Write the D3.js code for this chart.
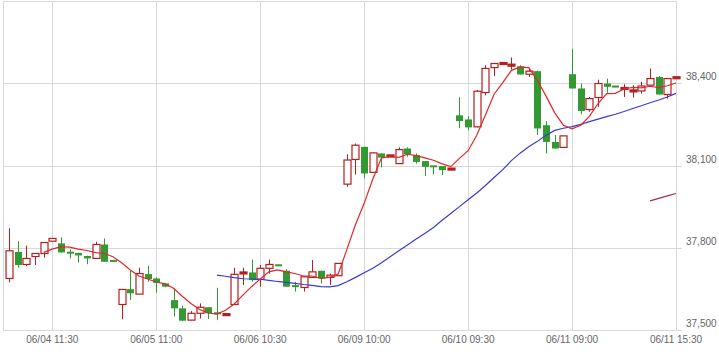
<!DOCTYPE html>
<html>
<head>
<meta charset="utf-8">
<script src="https://cdn.jsdelivr.net/npm/d3@7"></script>
<style>
    body { margin: 0; background: #fff; }
    text { font-family: "Liberation Sans", Arial, sans-serif; font-size: 10px; fill: #666; }
</style>
</head>
<body>
<svg id="chart" width="719" height="352"></svg>
<script>
// 30-minute bars, 06/04 09:00 .. 06/11 15:30 (13 bars a day)
const open  = [37688,37785,37739,37768,37779,37824,37816,37782,37781,37770,37761,37812,37752,37593,37649,37631,37704,37688,37670,37609,
               37579,37536,37561,37583,37561,37554,37593,37704,37710,37685,37725,37736,37716,37660,37655,37692,37716,37692,37698,38032,
               38122,38168,38075,38144,38133,38107,38162,38138,38116,38097,38098,38085,38283,38268,38241,38366,38457,38470,38463,38462,
               38433,38444,38247,38186,38166,38433,38381,38304,38348,38399,38388,38375,38365,38372,38393,38423,38359,38418]
const high  = [37871,37824,37808,37779,37821,37834,37838,37794,37782,37771,37822,37834,37752,37648,37716,37727,37734,37692,37670,37652,
               37589,37569,37597,37583,37654,37556,37727,37727,37757,37737,37757,37736,37722,37676,37696,37755,37716,37706,37743,38141,
               38180,38168,38148,38144,38135,38166,38166,38144,38116,38097,38098,38087,38349,38280,38375,38466,38474,38473,38494,38466,
               38454,38446,38262,38211,38208,38526,38399,38350,38413,38417,38388,38396,38393,38405,38454,38426,38417,38420]
const low   = [37674,37727,37733,37737,37764,37824,37783,37761,37746,37740,37761,37749,37750,37539,37609,37631,37676,37636,37656,37549,
               37534,37536,37542,37540,37536,37554,37593,37664,37676,37658,37706,37733,37658,37640,37640,37692,37670,37664,37698,38022,
               38067,38053,38075,38093,38133,38107,38132,38107,38062,38067,38065,38085,38236,38229,38239,38356,38426,38470,38450,38432,
               38423,38211,38144,38162,38166,38381,38287,38296,38314,38365,38386,38350,38348,38362,38393,38359,38344,38418]
const close = [37789,37737,37761,37779,37819,37834,37783,37776,37772,37761,37812,37749,37751,37648,37634,37706,37686,37672,37658,37579,
               37534,37561,37583,37561,37555,37556,37703,37708,37682,37725,37739,37733,37658,37654,37694,37712,37688,37700,37743,38120,
               38174,38071,38146,38129,38135,38158,38141,38113,38095,38093,38083,38087,38262,38239,38371,38454,38472,38472,38466,38432,
               38444,38235,38186,38162,38208,38381,38299,38344,38399,38387,38386,38381,38372,38390,38417,38359,38417,38420]

// moving averages; first value sits on bar ma*Start
const ma5Start = 4
const ma5 = [37783,37795,37804,37802,37795,37790,37782,37779,37767,37745,37719,37697,37686,37675,37668,37652,37623,37597,37575,37562,
             37558,37572,37595,37627,37658,37686,37712,37719,37712,37706,37697,37697,37688,37692,37704,37793,37885,37962,38051,38128,
             38132,38130,38141,38136,38128,38119,38106,38096,38126,38154,38210,38284,38360,38402,38447,38459,38457,38410,38353,38292,
             38247,38234,38247,38279,38326,38362,38363,38379,38385,38383,38389,38384,38391,38401]
const ma25Start = 24
const ma25 = [37700,37696,37691,37687,37686,37685,37681,37677,37674,37670,37666,37663,37658,37657,37662,37676,37692,37709,37725,37745,
              37767,37789,37810,37832,37852,37874,37900,37925,37950,37975,38000,38027,38056,38085,38118,38145,38168,38188,38210,38228,
              38236,38242,38250,38260,38269,38278,38287,38297,38308,38318,38329,38339,38350,38363]
const ma75Start = 74
const ma75 = [37971,37980,37989,37998]

const yTicks = [37500, 37800, 38100, 38400]
const xTickIdx = [5, 17, 29, 41, 53, 65, 77]
const xTickLabels = ["06/04 11:30", "06/05 11:00", "06/06 10:30", "06/09 10:00", "06/10 09:30", "06/11 09:00", "06/11 15:30"]

const plotLeft = 3, plotRight = 676, plotTop = 1, plotBottom = 330
const upColor = '#b41e1e'
const downColor = '#339933'

const svg = d3.select('#chart')

const x = d3.scaleLinear().domain([0, open.length - 1]).range([9, plotRight])
const y = d3.scaleLinear().domain([37500, 38700]).range([plotBottom, plotTop])

// grid
const grid = svg.append('g').attr('stroke', '#d9d9d9').attr('stroke-width', 1)
grid.selectAll('.hgrid')
    .data(yTicks)
    .enter().append('line')
    .attr('x1', plotLeft).attr('x2', plotRight + 6)
    .attr('y1', d => Math.round(y(d)) + 0.5)
    .attr('y2', d => Math.round(y(d)) + 0.5)
grid.selectAll('.vgrid')
    .data(xTickIdx)
    .enter().append('line')
    .attr('x1', d => Math.round(x(d)) + 0.5)
    .attr('x2', d => Math.round(x(d)) + 0.5)
    .attr('y1', plotTop).attr('y2', plotBottom)
grid.append('line').attr('x1', plotLeft + 0.5).attr('x2', plotLeft + 0.5).attr('y1', plotTop).attr('y2', plotBottom)
grid.append('line').attr('x1', plotLeft).attr('x2', plotRight).attr('y1', plotTop + 0.5).attr('y2', plotTop + 0.5)

// labels
svg.selectAll('.ylab')
    .data(yTicks)
    .enter().append('text')
    .attr('x', 686)
    .attr('y', d => y(d) - 3)
    .text(d => d3.format(',')(d))

svg.selectAll('.xlab')
    .data(xTickIdx)
    .enter().append('text')
    .attr('x', d => x(d))
    .attr('y', 343)
    .attr('text-anchor', 'middle')
    .text((d, i) => xTickLabels[i])

// candles
const bars = open.map((o, i) => ({i: i, o: o, h: high[i], l: low[i], c: close[i]}))
const candle = svg.append('g').selectAll('g')
    .data(bars)
    .enter().append('g')

candle.append('line')
    .attr('x1', d => Math.round(x(d.i)) + 0.5)
    .attr('x2', d => Math.round(x(d.i)) + 0.5)
    .attr('y1', d => y(d.h))
    .attr('y2', d => y(d.l))
    .attr('stroke', d => d.c >= d.o ? upColor : downColor)
    .attr('stroke-width', 1)

candle.append('rect')
    .attr('x', d => Math.round(x(d.i)) - 3)
    .attr('width', 7)
    .attr('y', d => {
        let h = Math.abs(y(d.o) - y(d.c))
        return Math.min(y(d.o), y(d.c)) - (h < 2 ? 1 : 0)
    })
    .attr('height', d => Math.max(2, Math.abs(y(d.o) - y(d.c))))
    .attr('fill', d => {
        if (d.c < d.o) {
            return downColor
        }
        else if (Math.abs(y(d.o) - y(d.c)) < 2) {
            return upColor
        }
        else {
            return '#fff'
        }
    })
    .attr('stroke', d => d.c >= d.o ? upColor : 'none')
    .attr('stroke-width', 1.2)

// moving averages
function drawLine(values, start, color) {
    let line = d3.line()
        .x((d, i) => x(start + i))
        .y(d => y(d))
    svg.append('path')
        .datum(values)
        .attr('d', line)
        .attr('fill', 'none')
        .attr('stroke', color)
        .attr('stroke-width', 1.2)
}
drawLine(ma25, ma25Start, '#3a3ad2')
drawLine(ma75, ma75Start, '#a0304f')
drawLine(ma5, ma5Start, '#e02828')
</script>
</body>
</html>
